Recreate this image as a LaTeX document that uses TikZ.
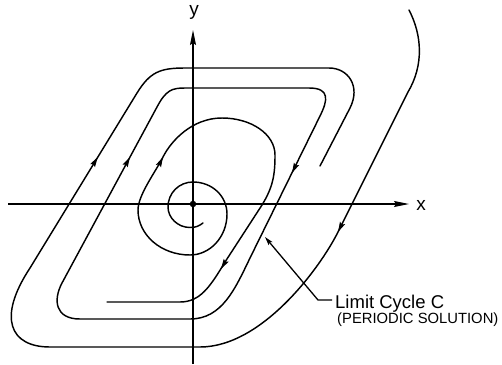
\documentclass[tikz,border=0pt]{standalone}
\usepackage{fontspec}
\setmainfont{Liberation Sans}
\usetikzlibrary{arrows.meta}
\begin{document}
\begin{tikzpicture}[x=1pt,y=-1pt,
  curve/.style={line width=1.45pt, line join=round, line cap=round},
  midarr/.style={line width=1.45pt, -{Stealth[length=10pt,width=5.5pt,inset=1.5pt]}},
  axisline/.style={line width=1.15pt, -{Stealth[length=15pt,width=6pt,inset=2pt]}},
  leader/.style={line width=1.3pt, {Stealth[length=8.5pt,width=4.8pt,inset=1.5pt]}-},
  lab/.style={inner sep=0pt, font=\fontsize{19}{19}\selectfont}]
\useasboundingbox (0,0) rectangle (502,364);

% axes
\coordinate (xs) at (8,204);
\coordinate (xe) at (409,204);
\coordinate (ys) at (193,364);
\coordinate (ye) at (193,30);
\draw[axisline] (xs) -- (xe);
\draw[axisline] (ys) -- (ye);
\node[lab, anchor=base] (xlab) at (421,210) {x};
\node[lab, anchor=base] (ylab) at (194,15) {y};
\node[circle, fill, inner sep=0pt, minimum size=6.5pt] (O) at (193,204) {};

% outer trajectory (approaching from outside)
\draw[curve] (409,10) .. controls (422,35) and (424,65) .. (408,92)
  -- (338,232) .. controls (320,268) and (262,347) .. (200,347)
  -- (50,347) .. controls (10,347) and (-3,318) .. (30,268)
  -- (137,93) .. controls (150,72) and (160,68) .. (185,68)
  -- (329,68) .. controls (348,68) and (361,86) .. (350,108)
  -- (320,166);

% limit cycle
\draw[curve] (185,88) -- (309,88) .. controls (330,88) and (328,100) .. (320,116)
  -- (250,258) .. controls (235,289) and (222,319) .. (190,319)
  -- (80,319) .. controls (55,319) and (53,300) .. (62,283)
  -- (157,107) .. controls (166,90) and (172,88) .. (185,88) -- cycle;

% inner spiral (from the focus outward)
\draw[curve] (203,223) .. controls (199,226) and (196,227.5) .. (190,227.5)
  .. controls (178,227.5) and (168,218) .. (168,207)
  .. controls (168,193) and (179,182) .. (193,182)
  .. controls (212,182) and (227,196) .. (227,214)
  .. controls (227,237) and (210,255) .. (190,255)
  .. controls (161,255) and (138,235) .. (138,210)
  .. controls (138,195) and (155.5,172) .. (163,157)
  .. controls (171,141) and (192,118) .. (222,118)
  .. controls (251,118) and (275,134) .. (275,155)
  .. controls (275,175) and (273,187) .. (262,205)
  -- (225,262) .. controls (210,287) and (200,302) .. (180,302)
  -- (107,302);

% direction arrows
\draw[midarr] (159,165) -- (163,157);
\draw[midarr] (225.6,261.3) -- (221,269);
\draw[midarr] (125.7,164.9) -- (130,157);
\draw[midarr] (296,164.9) -- (292,173);
\draw[midarr] (93.1,164.7) -- (97.8,157);
\draw[midarr] (342,224) -- (338,232);

% label and leader
\node[anchor=base west, inner sep=0pt, font=\fontsize{18.5}{18.5}\selectfont] (lbl1) at (335,308) {Limit Cycle C};
\node[anchor=base west, inner sep=0pt, font=\fontsize{14.8}{14.8}\selectfont] (lbl2) at (337,323.5) {(PERIODIC SOLUTION)};
\coordinate (lctip) at (265,237);
\coordinate (elbow) at (318,300);
\draw[leader] (lctip) -- (elbow) -- ([xshift=-3pt]lbl1.west |- elbow);
\end{tikzpicture}
\end{document}
